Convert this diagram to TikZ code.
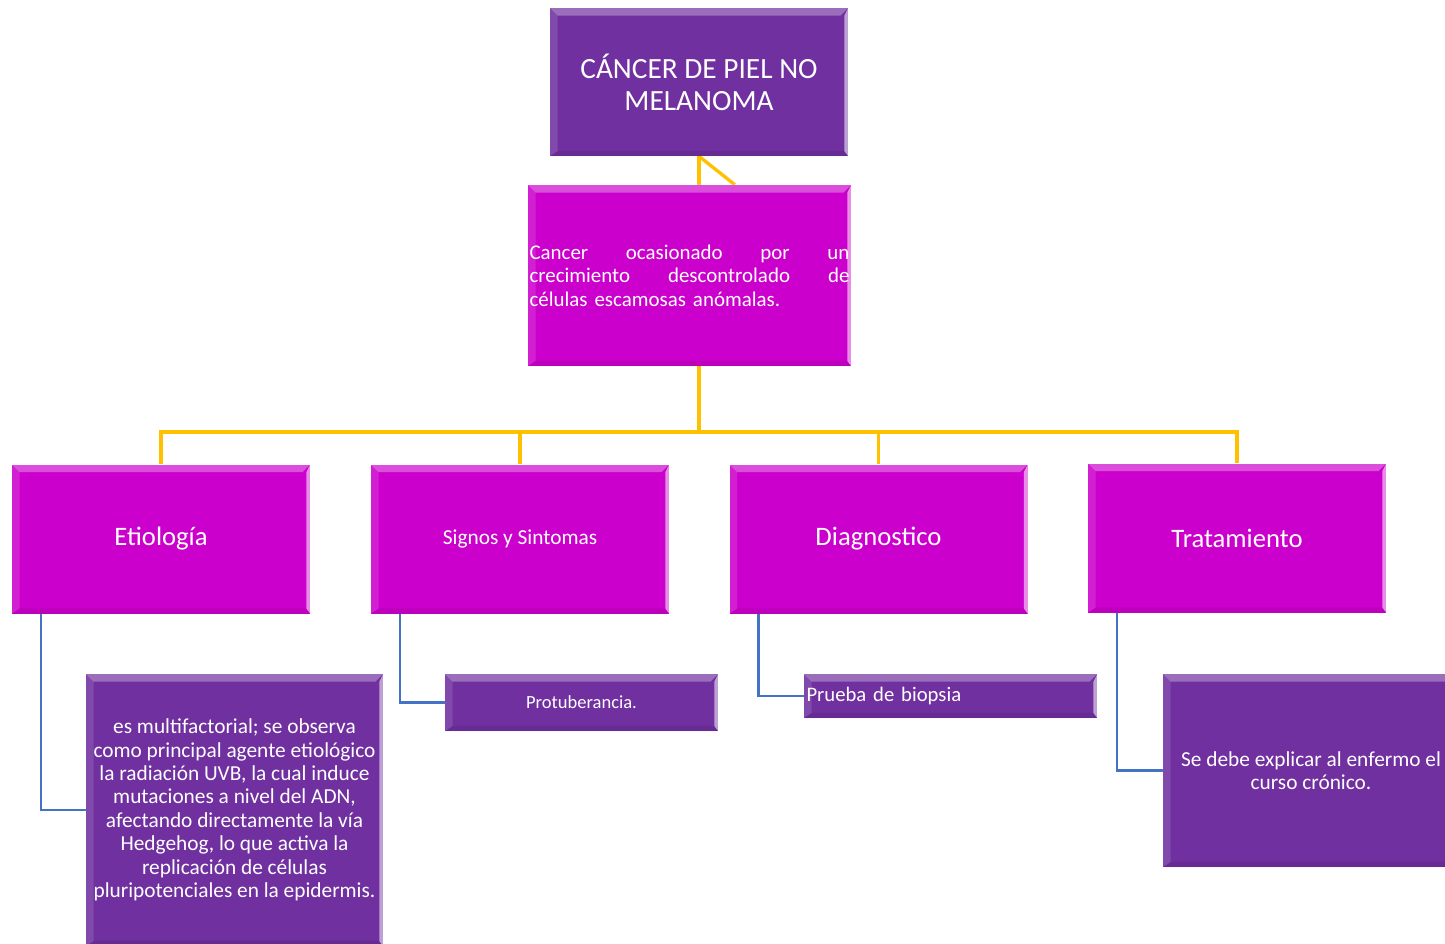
\documentclass[tikz,border=0pt]{standalone}
\usepackage{fontspec}
\setmainfont{Carlito}
\usetikzlibrary{positioning,calc,backgrounds}
\definecolor{violeta}{HTML}{7030A0}
\definecolor{fucsia}{HTML}{CC00CC}
\definecolor{oro}{HTML}{FFC000}
\definecolor{azulrama}{HTML}{4472C4}

\begin{document}
\begin{tikzpicture}[
    x=0.75pt, y=-0.75pt,
    caja/.style={fill=fucsia, text=white, align=center, inner sep=2pt},
    cajav/.style={caja, fill=violeta},
    nivel/.style={caja, minimum width=223.5pt, minimum height=111.75pt},
    tronco/.style={oro, line width=2.5pt},
    rama/.style={azulrama, line width=2pt}
  ]
    \useasboundingbox (0,0) rectangle (1445,943);
    \clip (0,0) rectangle (1445,943);

    \node[cajav, minimum width=223.5pt, minimum height=111pt, font=\fontsize{22}{24}\selectfont] (titulo) at (699,82) {CÁNCER DE PIEL NO\\MELANOMA};
    \node[caja, minimum width=242.25pt, minimum height=135.75pt, text width=240pt, align=left, inner sep=1pt, font=\fontsize{15.7}{17.6}\selectfont] (def) at (689.5,275.5)
      {\leavevmode\hbox to 240pt{Cancer\hfill ocasionado\hfill por\hfill un}\\\leavevmode\hbox to 240pt{crecimiento\hfill descontrolado\hfill de}\\células escamosas anómalas.};

    \node[nivel, font=\fontsize{20}{24}\selectfont] (etio) at (161,539) {Etiología};
    \node[nivel, font=\fontsize{16}{19}\selectfont] (signos) at (520,539) {Signos y Sintomas};
    \node[nivel, font=\fontsize{20}{24}\selectfont] (diag) at (878.5,539) {Diagnostico};
    \node[nivel, font=\fontsize{20}{24}\selectfont] (trat) at (1237,538) {Tratamiento};

    \node[cajav, minimum width=222.75pt, minimum height=204pt, font=\fontsize{16}{17.6}\selectfont] (detetio) at (234.5,810)
      {es multifactorial; se observa\\como principal agente etiológico\\la radiación UVB, la cual induce\\mutaciones a nivel del ADN,\\afectando directamente la vía\\Hedgehog, lo que activa la\\replicación de células\\pluripotenciales en la epidermis.};
    \node[cajav, minimum width=204.75pt, minimum height=42.75pt, font=\fontsize{13.9}{16}\selectfont] (protu) at (581.5,702.5) {Protuberancia.};
    \node[cajav, minimum height=33pt, text width=216pt, align=left, font=\fontsize{15.5}{17.6}\selectfont] (biopsia) at (950.5,696) {Prueba de biopsia};
    \node[cajav, minimum width=222pt, minimum height=144.75pt, font=\fontsize{16}{17.6}\selectfont] (cronico) at (1311,770.5) {Se debe explicar al enfermo el\\curso crónico.};

    % relieve de las cajas
    \foreach \n in {titulo,def,etio,signos,diag,trat,detetio,protu,biopsia,cronico} {
      \fill[white, opacity=.3] (\n.north west) -- (\n.north east) -- ([shift={(-6pt,-6pt)}]\n.north east) -- ([shift={(6pt,-6pt)}]\n.north west) -- cycle;
      \fill[white, opacity=.12] (\n.north west) -- ([shift={(6pt,-6pt)}]\n.north west) -- ([shift={(6pt,4pt)}]\n.south west) -- (\n.south west) -- cycle;
      \fill[black, opacity=.08] (\n.south west) -- ([shift={(6pt,4pt)}]\n.south west) -- ([shift={(-3pt,4pt)}]\n.south east) -- (\n.south east) -- cycle;
      \fill[white, opacity=.55] (\n.north east) -- ([shift={(-3pt,-6pt)}]\n.north east) -- ([shift={(-3pt,4pt)}]\n.south east) -- (\n.south east) -- cycle;
    }

    \coordinate (bus) at (699,432);
    \begin{scope}[on background layer]
      \draw[tronco] (titulo.south) -- (bus);
      \draw[tronco] (titulo.south) -- ([xshift=34pt]def.north);
      \draw[tronco] (etio.north) |- (bus) -| (trat.north);
      \draw[tronco] (signos.north) -- (signos.north |- bus);
      \draw[tronco] (diag.north) -- (diag.north |- bus);

      \draw[rama] ([xshift=22pt]etio.south west) |- (detetio.west);
      \draw[rama] ([xshift=22pt]signos.south west) |- (protu.west);
      \draw[rama] ([xshift=22pt]diag.south west) |- (biopsia.west);
      \draw[rama] ([xshift=22pt]trat.south west) |- (cronico.west);
    \end{scope}
  \end{tikzpicture}
\end{document}
